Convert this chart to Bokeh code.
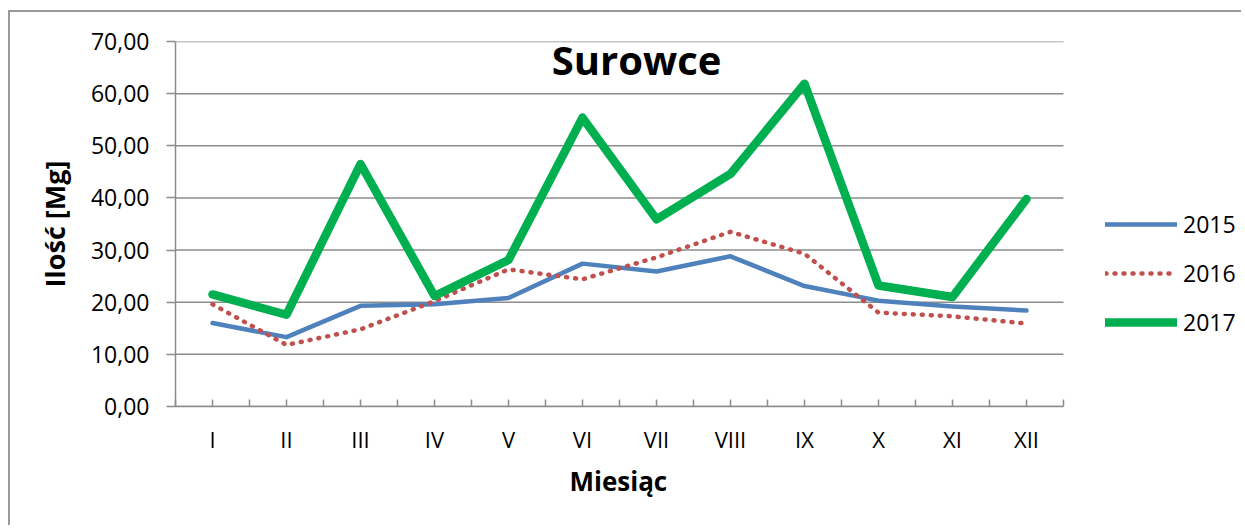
from bokeh.plotting import figure
from bokeh.models import (Range1d, FixedTicker, CustomJSTickFormatter, Legend,
                          LegendItem, Label, Title, ColumnDataSource)
from bokeh.embed import file_html
from bokeh.resources import INLINE

# ---- data ----
months = ["I", "II", "III", "IV", "V", "VI", "VII", "VIII", "IX", "X", "XI", "XII"]
v2015 = [16.0, 13.3, 19.3, 19.6, 20.8, 27.4, 25.9, 28.8, 23.1, 20.3, 19.2, 18.4]
v2016 = [19.6, 11.8, 14.8, 20.2, 26.3, 24.4, 28.6, 33.5, 29.3, 18.0, 17.3, 15.9]
v2017 = [21.5, 17.6, 46.5, 21.2, 28.1, 55.4, 35.9, 44.6, 61.9, 23.2, 21.0, 39.8]
series_names = ["2015", "2016", "2017"]
y_ticks = [0, 10, 20, 30, 40, 50, 60, 70]

FONT = "Open Sans"
GRAY = "#8c8c8c"

n = len(months)
xs = [i + 0.5 for i in range(n)]
src = ColumnDataSource(dict(x=xs, a=v2015, b=v2016, c=v2017))

W, H = 1233, 515
left, right, top = 165, 4, 29
frame_w = W - left - right
x_end = n * frame_w / 888.0   # plot area is 888 px wide; the rest holds the legend

p = figure(width=W, height=H, output_backend="svg", toolbar_location=None,
           x_range=Range1d(0, x_end), y_range=Range1d(0, 70),
           min_border_left=left, min_border_right=right, min_border_top=top,
           min_border_bottom=H - (406 - 12))
p.styles = {"border-left": "2px solid #9a9a9a", "border-top": "2px solid #9a9a9a",
            "margin-top": "10px", "margin-left": "8px"}
p.outline_line_color = None
p.background_fill_color = "white"
p.border_fill_color = "white"

# grid (limited to the plot area)
p.xgrid.visible = False
p.ygrid.visible = False
p.segment(x0=0, x1=n, y0=y_ticks, y1=y_ticks, line_color=GRAY, line_width=1.5,
          level="underlay")

# x axis
xt = [i * 0.5 for i in range(2 * n + 1)]
p.xaxis.bounds = (0, n)
p.xaxis.ticker = FixedTicker(ticks=xt)
p.xaxis.formatter = CustomJSTickFormatter(args=dict(months=months), code="""
    const i = tick - 0.5;
    if (Number.isInteger(i) && i >= 0 && i < months.length) { return months[i]; }
    return "";
""")
p.xaxis.major_tick_in = 7
p.xaxis.major_tick_out = 0
p.xaxis.minor_tick_line_color = None
p.xaxis.axis_line_color = GRAY
p.xaxis.axis_line_width = 1.5
p.xaxis.major_tick_line_color = GRAY
p.xaxis.major_tick_line_width = 1.5
p.xaxis.major_label_text_font = FONT
p.xaxis.major_label_text_font_size = "22px"
p.xaxis.major_label_text_color = "black"
p.xaxis.major_label_standoff = 17

# x axis title, centred under the plot area (not under the legend)
xtitle = Title(text="Miesiąc", align="left", offset=569 - 175, standoff=9,
               text_font=FONT, text_font_style="bold", text_font_size="26px",
               text_color="black")
p.add_layout(xtitle, "below")

# y axis
p.yaxis.ticker = FixedTicker(ticks=y_ticks)
p.yaxis.formatter = CustomJSTickFormatter(code="return tick.toFixed(2).replace('.', ',');")
p.yaxis.major_tick_in = 0
p.yaxis.major_tick_out = 9
p.yaxis.minor_tick_line_color = None
p.yaxis.axis_line_color = GRAY
p.yaxis.axis_line_width = 1.5
p.yaxis.major_tick_line_color = GRAY
p.yaxis.major_tick_line_width = 1.5
p.yaxis.major_label_text_font = FONT
p.yaxis.major_label_text_font_size = "23px"
p.yaxis.major_label_text_color = "black"
p.yaxis.major_label_standoff = 17
p.yaxis.axis_label = "Ilość [Mg]"
p.yaxis.axis_label_text_font = FONT
p.yaxis.axis_label_text_font_style = "bold"
p.yaxis.axis_label_text_font_size = "27px"
p.yaxis.axis_label_text_color = "black"
p.yaxis.axis_label_standoff = 15

# lines
r1 = p.line("x", "a", source=src, line_color="#4F81BD", line_width=4.5,
            line_cap="round", line_join="round")
r2 = p.line("x", "b", source=src, line_color="#C0504D", line_width=4.5,
            line_dash="1 8", line_cap="round", line_join="round")
r3 = p.line("x", "c", source=src, line_color="#00B050", line_width=8.5,
            line_cap="round", line_join="round")

legend = Legend(items=[LegendItem(label=series_names[0], renderers=[r1]),
                       LegendItem(label=series_names[1], renderers=[r2]),
                       LegendItem(label=series_names[2], renderers=[r3])],
                location=(930, 68), orientation="vertical",
                glyph_width=72, glyph_height=30, label_height=30,
                label_standoff=6, spacing=17, padding=0, margin=0,
                border_line_color=None, background_fill_alpha=0,
                label_text_font=FONT, label_text_font_size="23px",
                label_text_color="black")
p.add_layout(legend, "center")

title = Label(x=6.23, y=66.5, text="Surowce", text_font=FONT,
              text_font_style="bold", text_font_size="40px",
              text_align="center", text_baseline="middle", text_color="black")
p.add_layout(title)

open("out.html", "w").write(file_html(p, INLINE))
